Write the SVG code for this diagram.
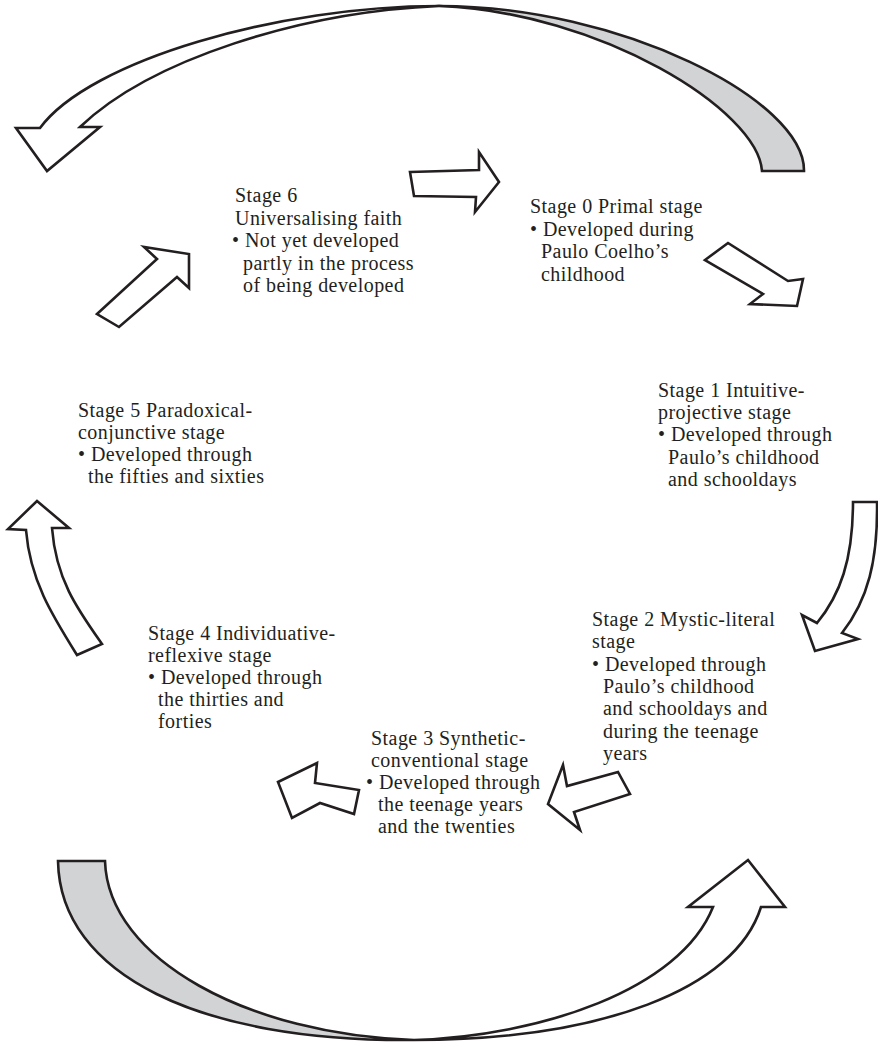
<svg xmlns="http://www.w3.org/2000/svg" width="878" height="1044" viewBox="0 0 878 1044">
  <style>
    .bg { fill: #ffffff; }
    .arrow { fill: #ffffff; stroke: #231f20; stroke-width: 2.6; stroke-linejoin: miter; }
    .back { fill: #d1d3d4; stroke: #231f20; stroke-width: 2.6; stroke-linejoin: miter; }
    .t { font-family: "Liberation Serif", "Times New Roman", serif; font-size: 20px; letter-spacing: 0.45px; fill: #231f20; }
  </style>
  <rect class="bg" x="0" y="0" width="878" height="1044"/>

  <!-- connectors: block arrows between the stages -->
  <g id="connectors">
    <!-- large curved arrow across the top (Stage 0 back round to the left) -->
    <g id="arc-top">
      <path class="back" d="M762,171 L804,171 C805,100 620,6 439,6 C600,12 758,110 762,171 Z"/>
      <path class="arrow" d="M439,6 C280,6 90,60 40,128 L16,128 L47,171 L100,127 L80,127 C150,60 300,12 439,6 Z"/>
    </g>
    <!-- large curved arrow across the bottom -->
    <g id="arc-bottom">
      <path class="back" d="M58,861 L105,861 C108,960 250,1035 414,1040 C200,1042 60,975 58,861 Z"/>
      <path class="arrow" d="M761,907 L785,907 L748,860 L688,907 L713,907 C680,990 540,1036 414,1040 C600,1040 735,990 761,907 Z"/>
    </g>
    <!-- Stage 6 to Stage 0 -->
    <polygon id="a6-0" class="arrow" points="410,172 479,170 479,152 499,182 475,212 476,197 414,196"/>
    <!-- Stage 0 to Stage 1 -->
    <polygon id="a0-1" class="arrow" points="705,260 728,243 788,281 803,279 797,306 750,304 763,294"/>
    <!-- Stage 1 to Stage 2 (curved) -->
    <path id="a1-2" class="arrow" d="M853,502 L877,502 C878,560 868,600 842,633 L858,639 L815,651 L802,615 L817,623 C840,595 853,560 853,502 Z"/>
    <!-- Stage 2 to Stage 3 -->
    <polygon id="a2-3" class="arrow" points="563,765 548,804 580,830 574,812 630,794 618,772 567,786"/>
    <!-- Stage 3 to Stage 4 -->
    <polygon id="a3-4" class="arrow" points="278,782 317,763 315,783 359,790 354,814 320,803 292,818"/>
    <!-- Stage 4 to Stage 5 (curved) -->
    <path id="a4-5" class="arrow" d="M77,655 L102,644 C78,610 56,580 52,528 L69,528 L37,501 L8,529 L26,530 C30,580 52,615 77,655 Z"/>
    <!-- Stage 5 to Stage 6 -->
    <polygon id="a5-6" class="arrow" points="97,314 157,259 144,247 189,254 189,288 177,277 119,327"/>
  </g>

  <g id="stage-6">
    <text class="t" x="235" y="202">Stage 6</text>
    <text class="t" x="235" y="225">Universalising faith</text>
    <text class="t" x="232" y="247">• Not yet developed</text>
    <text class="t" x="243" y="270">partly in the process</text>
    <text class="t" x="243" y="292">of being developed</text>
  </g>

  <g id="stage-0">
    <text class="t" x="530" y="213">Stage 0 Primal stage</text>
    <text class="t" x="530" y="236">• Developed during</text>
    <text class="t" x="541" y="258">Paulo Coelho’s</text>
    <text class="t" x="541" y="281">childhood</text>
  </g>

  <g id="stage-1">
    <text class="t" x="658" y="397">Stage 1 Intuitive-</text>
    <text class="t" x="658" y="419">projective stage</text>
    <text class="t" x="658" y="441">• Developed through</text>
    <text class="t" x="668" y="464">Paulo’s childhood</text>
    <text class="t" x="668" y="486">and schooldays</text>
  </g>

  <g id="stage-2">
    <text class="t" x="592" y="626">Stage 2 Mystic-literal</text>
    <text class="t" x="592" y="648">stage</text>
    <text class="t" x="592" y="671">• Developed through</text>
    <text class="t" x="603" y="693">Paulo’s childhood</text>
    <text class="t" x="603" y="715">and schooldays and</text>
    <text class="t" x="603" y="738">during the teenage</text>
    <text class="t" x="603" y="760">years</text>
  </g>

  <g id="stage-3">
    <text class="t" x="371" y="745">Stage 3 Synthetic-</text>
    <text class="t" x="371" y="767">conventional stage</text>
    <text class="t" x="366" y="789">• Developed through</text>
    <text class="t" x="378" y="811">the teenage years</text>
    <text class="t" x="378" y="833">and the twenties</text>
  </g>

  <g id="stage-4">
    <text class="t" x="148" y="640">Stage 4 Individuative-</text>
    <text class="t" x="148" y="662">reflexive stage</text>
    <text class="t" x="148" y="684">• Developed through</text>
    <text class="t" x="158" y="706">the thirties and</text>
    <text class="t" x="158" y="728">forties</text>
  </g>

  <g id="stage-5">
    <text class="t" x="78" y="417">Stage 5 Paradoxical-</text>
    <text class="t" x="78" y="439">conjunctive stage</text>
    <text class="t" x="78" y="461">• Developed through</text>
    <text class="t" x="88" y="483">the fifties and sixties</text>
  </g>
</svg>
